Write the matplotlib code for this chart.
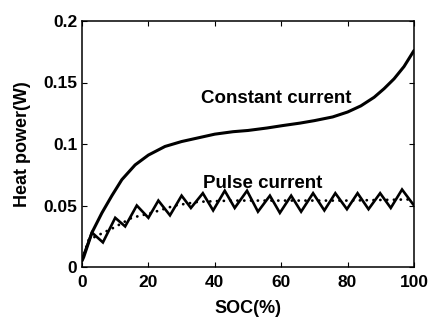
import matplotlib
matplotlib.use("Agg")
import matplotlib.pyplot as plt

plt.rcParams['font.family'] = ['Liberation Sans', 'DejaVu Sans']
plt.rcParams['font.weight'] = 'bold'

# Constant-current heat power vs SOC
soc_const = [0, 0.5, 3, 6, 9, 12, 16, 20, 25, 30, 35, 40, 45.5, 50, 55.7, 60.5,
             65.7, 70, 75.5, 80, 84, 88, 91, 94, 97, 100]
heat_const = [0.005, 0.008, 0.028, 0.044, 0.058, 0.071, 0.083, 0.091, 0.098, 0.102,
              0.105, 0.108, 0.110, 0.111, 0.113, 0.115, 0.117, 0.119, 0.122, 0.126,
              0.131, 0.138, 0.145, 0.153, 0.163, 0.176]

# Pulse-current heat power (peaks and troughs)
soc_pulse = [0, 3, 6.3, 10, 13, 16.5, 20, 23, 26.5, 30, 32.8, 36.4, 39.5, 43, 46,
             49.7, 53, 56.6, 59.6, 63, 66, 69.6, 73, 76.3, 79.8, 83, 86.3, 89.8,
             93, 96.4, 100]
heat_pulse = [0.006, 0.028, 0.020, 0.040, 0.033, 0.050, 0.040, 0.054, 0.042, 0.058,
              0.048, 0.060, 0.046, 0.062, 0.048, 0.062, 0.045, 0.058, 0.044, 0.058,
              0.045, 0.060, 0.046, 0.060, 0.047, 0.060, 0.047, 0.060, 0.048, 0.063,
              0.050]

# Average of the pulse-current heat power
soc_avg = [0, 2, 5, 9.6, 15, 21, 28, 35, 45, 60, 80, 100]
heat_avg = [0.006, 0.022, 0.026, 0.032, 0.040, 0.044, 0.050, 0.053, 0.054, 0.054,
            0.054, 0.055]

x_ticks = [0, 20, 40, 60, 80, 100]
y_ticks = [0, 0.05, 0.1, 0.15, 0.2]
y_ticklabels = ['0', '0.05', '0.1', '0.15', '0.2']

fig = plt.figure(figsize=(4.32, 3.2), dpi=100)
ax = fig.add_axes([82 / 432, 53 / 320, 332 / 432, 246 / 320])

ax.plot(soc_const, heat_const, color='black', lw=2.2, solid_capstyle='round',
        solid_joinstyle='round')
ax.plot(soc_pulse, heat_pulse, color='black', lw=1.9, solid_joinstyle='miter')
ax.plot(soc_avg, heat_avg, color='black', lw=2.0, linestyle=(0, (0.05, 2.4)),
        dash_capstyle='round')

ax.set_xlim(0, 100)
ax.set_ylim(0, 0.2)
ax.set_xticks(x_ticks)
ax.set_yticks(y_ticks)
ax.set_yticklabels(y_ticklabels)
ax.tick_params(direction='in', top=True, right=True, length=3.5, width=0.8,
               labelsize=12.5)
ax.tick_params(axis='x', pad=6)
ax.tick_params(axis='y', pad=3.5)
for lbl in ax.get_xticklabels() + ax.get_yticklabels():
    lbl.set_fontweight('bold')
for sp in ax.spines.values():
    sp.set_linewidth(1.1)

ax.set_xlabel('SOC(%)', fontsize=13, fontweight='bold', labelpad=7)
ax.set_ylabel('Heat power(W)', fontsize=13, fontweight='bold', labelpad=9)

ax.text(58.5, 0.137, 'Constant current', fontsize=13.5, fontweight='bold',
        ha='center', va='center')
ax.text(54.5, 0.068, 'Pulse current', fontsize=13.5, fontweight='bold',
        ha='center', va='center')

fig.savefig('out.png', dpi=100)
